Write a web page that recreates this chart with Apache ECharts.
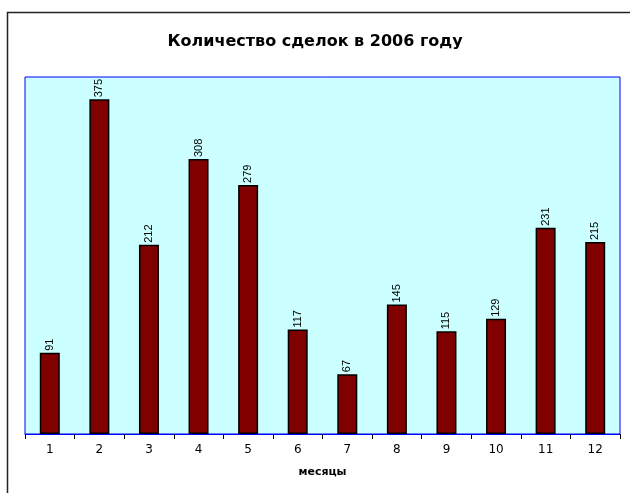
<!DOCTYPE html>
<html>
<head>
<meta charset="utf-8">
<script src="https://cdn.jsdelivr.net/npm/echarts@6/dist/echarts.min.js"></script>
<style>
  html, body { margin: 0; padding: 0; background: #fff; }
  #main { width: 630px; height: 493px; }
</style>
</head>
<body>
<div id="main"></div>
<script>
// data
var months = ['1', '2', '3', '4', '5', '6', '7', '8', '9', '10', '11', '12'];
var deals = [91, 375, 212, 308, 279, 117, 67, 145, 115, 129, 231, 215];

var myChart = echarts.init(document.getElementById('main'));

var option = {
    animation: false,
    textStyle: { fontFamily: 'DejaVu Sans, sans-serif' },
    title: {
        text: 'Количество сделок в 2006 году',
        left: 'center',
        top: 29,
        textStyle: { fontFamily: 'DejaVu Sans', fontSize: 16, fontWeight: 'bold', color: '#000' }
    },
    graphic: [{
        type: 'rect',
        shape: { x: 7.5, y: 12.5, width: 650, height: 520 },
        style: { fill: 'none', stroke: '#222', lineWidth: 1.5 },
        silent: true
    }],
    grid: {
        left: 25, top: 77, right: 10, bottom: 59,
        show: true,
        backgroundColor: '#CCFFFF',
        borderColor: '#0000FF',
        borderWidth: 1
    },
    xAxis: {
        type: 'category',
        data: months,
        name: 'месяцы',
        nameLocation: 'middle',
        nameGap: 33,
        nameTextStyle: { fontFamily: 'DejaVu Sans', fontSize: 11, fontWeight: 'bold', color: '#000' },
        axisLine: { lineStyle: { color: '#0000FF', width: 1 } },
        axisTick: { show: true, length: 5, lineStyle: { color: '#000', width: 1 } },
        axisLabel: { fontFamily: 'DejaVu Sans', fontSize: 12, color: '#000', margin: 10 }
    },
    yAxis: {
        type: 'value',
        min: 0,
        max: 400,
        show: false,
        splitLine: { show: false }
    },
    series: [{
        name: 'сделки',
        type: 'bar',
        data: deals,
        barWidth: 20,
        itemStyle: { color: '#800000', borderColor: '#000', borderWidth: 1.5 },
        label: {
            show: true,
            position: 'top',
            rotate: 90,
            align: 'left',
            verticalAlign: 'middle',
            distance: 4,
            offset: [-2, 0],
            fontFamily: 'Liberation Sans',
            fontSize: 11,
            color: '#000'
        }
    }]
};

myChart.setOption(option);
</script>
</body>
</html>
